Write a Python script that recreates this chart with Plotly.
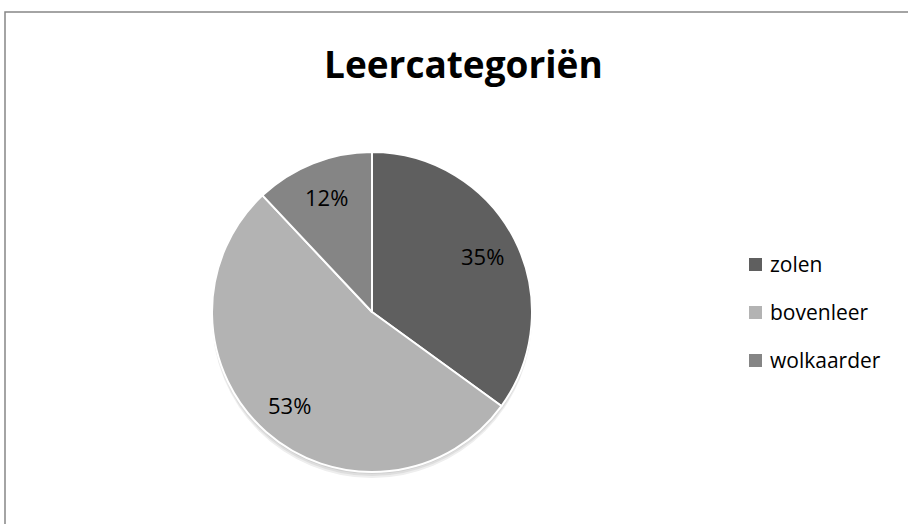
import math
import plotly.graph_objects as go

# Leather categories and their share (percent)
categories = ["zolen", "bovenleer", "wolkaarder"]
shares = [35, 53, 12]
colors = ["#5f5f5f", "#b3b3b3", "#858585"]

W, H = 908, 524
cx, cy, r = 372, 312, 160
FONT = "Open Sans, sans-serif"

fig = go.Figure()

# soft drop shadow under the pie
for off, col in [(6, "#eeeeee"), (4, "#dedede"), (2, "#cfcfcf")]:
    fig.add_trace(go.Pie(
        values=[1], marker=dict(colors=[col], line=dict(width=0)),
        textinfo="none", hoverinfo="skip", showlegend=False, sort=False,
        domain=dict(x=[(cx - r) / W, (cx + r) / W],
                    y=[1 - (cy + r + off) / H, 1 - (cy - r + off) / H]),
    ))

fig.add_trace(go.Pie(
    labels=categories, values=shares,
    marker=dict(colors=colors, line=dict(color="white", width=2)),
    sort=False, direction="clockwise", rotation=0,
    textinfo="none", showlegend=False,
    domain=dict(x=[(cx - r) / W, (cx + r) / W], y=[1 - (cy + r) / H, 1 - (cy - r) / H]),
))

shapes = [
    # outer chart frame
    dict(type="rect", xref="paper", yref="paper",
         x0=5 / W, x1=1.05, y0=-0.05, y1=1 - 12 / H,
         line=dict(color="#868686", width=1.5), fillcolor="rgba(0,0,0,0)"),
]
annotations = [
    dict(text="<b>Leercategoriën</b>", x=463 / W, y=1 - 63 / H, xref="paper", yref="paper",
         showarrow=False, font=dict(family=FONT, size=37, color="black"),
         xanchor="center", yanchor="middle"),
]

# percentage labels placed along each slice's mid-angle
total = sum(shares)
start = 0.0
for v in shares:
    mid = (start + v / 2) / total * 2 * math.pi
    start += v
    lx = cx + 0.775 * r * math.sin(mid)
    ly = cy - 0.775 * r * math.cos(mid)
    annotations.append(dict(text=f"{round(100 * v / total)}%", x=lx / W, y=1 - ly / H,
                            xref="paper", yref="paper", showarrow=False,
                            xanchor="center", yanchor="middle",
                            font=dict(family=FONT, size=22, color="black")))

# legend entries
leg_x, leg_y0, leg_dy = 749, 264.5, 48
for i, (name, col) in enumerate(zip(categories, colors)):
    y = leg_y0 + i * leg_dy
    shapes.append(dict(type="rect", xref="paper", yref="paper",
                       x0=leg_x / W, x1=(leg_x + 13) / W,
                       y0=1 - (y + 6.5) / H, y1=1 - (y - 6.5) / H,
                       fillcolor=col, line=dict(width=0)))
    annotations.append(dict(text=name, x=(leg_x + 19) / W, y=1 - (y - 1) / H,
                            xref="paper", yref="paper", showarrow=False,
                            xanchor="left", yanchor="middle",
                            font=dict(family=FONT, size=21, color="black")))

fig.update_layout(
    width=W, height=H, margin=dict(l=0, r=0, t=0, b=0),
    paper_bgcolor="white", plot_bgcolor="white",
    shapes=shapes, annotations=annotations,
)

fig.write_html("out.html")
